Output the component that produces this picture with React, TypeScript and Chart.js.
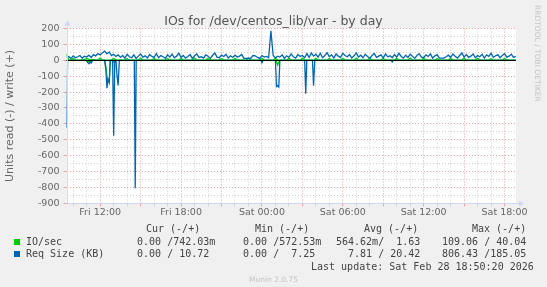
import React, { useEffect, useRef } from "react";
import { Chart, registerables } from "chart.js";

Chart.register(...registerables);

// ---- time axis (hours since Fri 00:00) ----
const START_H = 9.5; // Fri 09:30, first sample
const STEP_H = 1 / 6; // 10-minute samples
const X_MIN = 9.5;
const X_MAX = 42.85;
const X_LABEL_HOURS = [12, 18, 24, 30, 36, 42];
const X_LABELS = ["Fri 12:00", "Fri 18:00", "Sat 00:00", "Sat 06:00", "Sat 12:00", "Sat 18:00"];
const X_GRID_FIRST = 10;
const X_GRID_LAST = 42;

// ---- y axis ----
const Y_MIN = -900;
const Y_MAX = 200;
const Y_MINOR_STEP = 50;
const Y_MAJOR_STEP = 100;

// ---- series: Req Size (KB), write (+), one value per 10 minutes ----
const REQ_WRITE = [
  18, 24, 12, 28, 16, 22, 30, 14, 26, 20, 32, 18,
  36, 28, 42, 34, 48, 58, 40, 52, 30, 38, 24, 34,
  18, 30, 14, 38, 22, 16, 34, 12, 26, 40, 20, 28,
  14, 36, 24, 18, 42, 16, 30, 22, 12, 34, 20, 38,
  16, 26, 44, 18, 30, 14, 24, 36, 12, 28, 40, 18,
  22, 14, 34, 26, 12, 30, 46, 20, 16, 32, 24, 38,
  14, 28, 18, 32, 20, 26, 36, 12, 12, 14, 12, 30,
  28, 18, 12, 30, 20, 24, 16, 185, 30, 14, 26, 20,
  34, 12, 28, 18, 40, 22, 14, 36, 24, 30, 16, 42,
  18, 46, 26, 38, 20, 44, 16, 30, 48, 22, 34, 14,
  40, 26, 18, 44, 30, 22, 36, 14, 28, 46, 20, 32,
  16, 38, 24, 12, 30, 42, 18, 26, 34, 14, 40, 22,
  28, 16, 36, 20, 44, 24, 14, 32, 18, 38, 26, 12,
  30, 42, 20, 16, 34, 24, 40, 14, 28, 36, 14, 13,
  14, 22, 32, 18, 40, 26, 14, 30, 46, 20, 36, 18,
  26, 40, 16, 30, 22, 38, 14, 34, 24, 44, 18, 28,
  36, 16, 30, 42, 20, 26, 38, 18, 24,
];

// ---- series: IO/sec, write (+), one value per 10 minutes ----
const IO_WRITE = [
  40, 2, 1.2, 12, 1.4, 1.1,
  1.3, 1.6, 5, 11, 6, 4,
  5, 3, 1.4, 13, 1.3, 1.2,
  1.6, 1.1, 1.5, 12, 1.2, 1.4,
  1.2, 1.3, 1.1, 11, 1.6, 1.2,
  1.4, 1.2, 1.3, 13, 1.1, 1.5,
  1.3, 1.1, 1.2, 12, 1.4, 1.2,
  1.5, 1.3, 1.2, 11, 1.3, 1.1,
  1.2, 1.4, 1.6, 12, 1.2, 1.3,
  1.1, 1.3, 1.2, 13, 1.5, 1.2,
  1.4, 1.2, 1.1, 12, 1.3, 1.4,
  1.2, 1.5, 1.3, 11, 1.2, 1.1,
  1.3, 1.2, 1.4, 12, 1.1, 1.3,
  1.5, 1.1, 1.2, 13, 1.4, 1.2,
  1.2, 1.3, 1.5, 12, 1.2, 1.1,
  1.4, 1.2, 1.3, 11, 1.3, 1.5,
  1.1, 1.4, 1.2, 12, 1.2, 1.3,
  1.3, 1.2, 1.1, 13, 1.4, 1.2,
  1.2, 1.5, 1.3, 12, 1.1, 1.4,
  1.4, 1.1, 1.2, 11, 1.3, 1.2,
  1.3, 1.2, 1.4, 12, 1.2, 1.1,
  1.1, 1.3, 1.2, 13, 1.5, 1.3,
  1.2, 1.4, 1.1, 12, 1.3, 1.2,
  1.5, 1.2, 1.3, 11, 1.2, 1.4,
  1.2, 1.1, 1.4, 12, 1.3, 1.2,
  1.3, 1.5, 1.2, 13, 1.1, 1.3,
  1.4, 1.2, 1.1, 12, 1.4, 1.2,
  1.2, 1.3, 1.5, 11, 1.2, 1.1,
  1.1, 1.4, 1.2, 12, 1.3, 1.5,
  1.3, 1.2, 1.3, 13, 1.2, 1.4,
  1.2, 1.1, 1.4, 12, 1.5, 1.2,
  1.4, 1.3, 1.2, 11, 1.1, 1.3,
  1.2, 1.4, 1.3, 12, 1.2, 1.2,
  1.3, 1.1, 0.74,
];

// ---- series: Req Size (KB), read (-), sampled times (h) and values ----
const REQ_READ_T = [
  9.5, 9.583, 11.0, 11.08, 11.17, 11.25, 11.33, 11.42,
  12.33, 12.42, 12.5, 12.58, 12.67, 12.75, 12.92, 13.0, 13.08,
  13.17, 13.25, 13.33, 13.42, 14.53, 14.6, 14.67,
  23.92, 24.0, 24.08, 25.0, 25.08, 25.17, 25.25, 25.33,
  27.17, 27.25, 27.33, 27.75, 27.83, 27.92, 33.58, 33.67, 33.75, 42.83,
];
const REQ_READ_V = [
  -425, 0, 0, -15, -22, -10, -18, 0,
  0, -60, -175, -120, -140, 0, 0, -475, 0,
  0, -100, -158, 0, 0, -806, 0,
  0, -16, 0, 0, -165, -160, -168, 0,
  0, -210, 0, 0, -160, 0, 0, -10, 0, 0,
];

// ---- series: IO/sec, read (-), sampled times (h) and values ----
const IO_READ_T = [
  9.5, 10.9, 11.0, 11.17, 11.33, 11.5,
  12.33, 12.42, 12.5, 12.58, 12.67, 12.75, 12.92, 13.0, 13.08,
  25.0, 25.08, 25.17, 25.25, 25.33, 42.83,
];
const IO_READ_V = [
  0, 0, -6, -10, -5, 0,
  0, -40, -100, -136, -130, 0, 0, -12, 0,
  0, -10, -30, -12, 0, 0,
];

// ---- legend ----
const SERIES_NAMES = ["IO/sec", "Req Size (KB)"];
const SERIES_COLORS = ["#00CC00", "#0066B3"];
const COL_HEADERS = ["Cur (-/+)", "Min (-/+)", "Avg (-/+)", "Max (-/+)"];
const CUR_VALUES = ["  0.00 /742.03m", "  0.00 / 10.72 "];
const MIN_VALUES = ["  0.00 /572.53m", "  0.00 /  7.25 "];
const AVG_VALUES = ["564.62m/  1.63 ", "  7.81 / 20.42 "];
const MAX_VALUES = ["109.06 / 40.04 ", "806.43 /185.05 "];
const TITLE = "IOs for /dev/centos_lib/var - by day";
const Y_TITLE = "Units read (-) / write (+)";
const LAST_UPDATE = "Last update: Sat Feb 28 18:50:20 2026";
const WATERMARK = "RRDTOOL / TOBI OETIKER";
const VERSION = "Munin 2.0.75";

const MAJOR_GRID = "#e9a3a3";
const MINOR_GRID = "#d2d2d2";
const AXIS_COLOR = "#CFD6F8";
const FONT_COLOR = "#666666";

const SANS = "'DejaVu Sans', sans-serif";
const MONO = "'DejaVu Sans Mono', monospace";

export default function App() {
  const ref = useRef<HTMLCanvasElement>(null);

  useEffect(() => {
    const canvas = ref.current;
    if (!canvas) return;
    const series = (vals: number[]) => vals.map((v, i) => ({ x: START_H + i * STEP_H, y: v }));
    const sparse = (t: number[], v: number[]) => t.map((x, i) => ({ x, y: v[i] }));

    const yTicks: number[] = [];
    for (let v = Y_MIN; v <= Y_MAX; v += Y_MINOR_STEP) yTicks.push(v);
    const xTicks: number[] = [];
    for (let h = X_GRID_FIRST; h <= X_GRID_LAST; h += 1) xTicks.push(h);

    const decor = {
      id: "decor",
      beforeDraw(chart: any) {
        const { ctx, chartArea: a } = chart;
        ctx.save();
        ctx.fillStyle = "#ffffff";
        ctx.fillRect(a.left, a.top, a.right - a.left, a.bottom - a.top);
        ctx.restore();
      },
      afterDatasetsDraw(chart: any) {
        const { ctx, chartArea: a, scales } = chart;
        ctx.save();
        const y0 = Math.round(scales.y.getPixelForValue(0)) + 0.5;
        ctx.strokeStyle = "#000000";
        ctx.lineWidth = 1;
        ctx.beginPath();
        ctx.moveTo(a.left, y0);
        ctx.lineTo(a.right, y0);
        ctx.stroke();
        const xl = Math.round(a.left) + 0.5;
        const yb = Math.round(a.bottom) + 0.5;
        ctx.strokeStyle = AXIS_COLOR;
        ctx.fillStyle = AXIS_COLOR;
        ctx.beginPath();
        ctx.moveTo(xl, a.top - 3);
        ctx.lineTo(xl, yb);
        ctx.lineTo(a.right + 3, yb);
        ctx.stroke();
        ctx.beginPath();
        ctx.moveTo(xl - 3, a.top - 3);
        ctx.lineTo(xl + 3, a.top - 3);
        ctx.lineTo(xl, a.top - 8);
        ctx.closePath();
        ctx.fill();
        ctx.beginPath();
        ctx.moveTo(a.right + 3, yb - 3);
        ctx.lineTo(a.right + 3, yb + 3);
        ctx.lineTo(a.right + 8, yb);
        ctx.closePath();
        ctx.fill();
        ctx.restore();
      },
    };

    const line = (label: string, data: any[], color: string) => ({
      label,
      data,
      borderColor: color,
      backgroundColor: color,
      borderWidth: 1.3,
      pointRadius: 0,
      tension: 0,
      fill: false,
    });

    const chart = new Chart(canvas, {
      type: "line",
      data: {
        datasets: [
          line(SERIES_NAMES[1], series(REQ_WRITE), SERIES_COLORS[1]),
          line(SERIES_NAMES[1], sparse(REQ_READ_T, REQ_READ_V), SERIES_COLORS[1]),
          line(SERIES_NAMES[0], series(IO_WRITE), SERIES_COLORS[0]),
          line(SERIES_NAMES[0], sparse(IO_READ_T, IO_READ_V), SERIES_COLORS[0]),
        ],
      },
      options: {
        animation: false,
        responsive: true,
        maintainAspectRatio: false,
        layout: { padding: { left: 0, right: 31, top: 28.5, bottom: 63.7 } },
        plugins: { legend: { display: false }, tooltip: { enabled: false }, title: { display: false } },
        scales: {
          x: {
            type: "linear",
            min: X_MIN,
            max: X_MAX,
            afterBuildTicks: (s: any) => {
              s.ticks = xTicks.map((v) => ({ value: v }));
            },
            afterFit: (s: any) => {
              s.height = 20;
            },
            ticks: {
              autoSkip: false,
              maxRotation: 0,
              minRotation: 0,
              padding: 1,
              color: FONT_COLOR,
              font: { family: SANS, size: 9.5 },
              callback: (v: any) => {
                const k = X_LABEL_HOURS.indexOf(Number(v));
                return k >= 0 ? X_LABELS[k] : "";
              },
            },
            grid: {
              color: (c: any) => (c.tick && c.tick.value % 3 === 0 ? MAJOR_GRID : MINOR_GRID),
              tickColor: (c: any) => (c.tick && c.tick.value % 3 === 0 ? MAJOR_GRID : MINOR_GRID),
              lineWidth: 1,
              drawTicks: true,
              tickLength: 3,
            },
            border: { display: false, dash: [1, 2] },
          },
          y: {
            type: "linear",
            min: Y_MIN,
            max: Y_MAX,
            afterBuildTicks: (s: any) => {
              s.ticks = yTicks.map((v) => ({ value: v }));
            },
            afterFit: (s: any) => {
              s.width = 66.5;
            },
            title: {
              display: true,
              text: Y_TITLE,
              color: FONT_COLOR,
              font: { family: SANS, size: 11 },
              padding: { top: 3.5, bottom: 0 },
            },
            ticks: {
              autoSkip: false,
              padding: 4,
              color: FONT_COLOR,
              font: { family: SANS, size: 9.5 },
              callback: (v: any) => (Number(v) % Y_MAJOR_STEP === 0 ? String(v) : ""),
            },
            grid: {
              color: (c: any) => (c.tick && c.tick.value % Y_MAJOR_STEP === 0 ? MAJOR_GRID : MINOR_GRID),
              tickColor: (c: any) => (c.tick && c.tick.value % Y_MAJOR_STEP === 0 ? MAJOR_GRID : "rgba(0,0,0,0)"),
              lineWidth: 1,
              drawTicks: true,
              tickLength: 3,
            },
            border: { display: false, dash: [1, 2] },
          },
        },
      },
      plugins: [decor],
    } as any);

    return () => chart.destroy();
  }, []);

  const legendTop = (yc: number) => yc - 5.8;
  const mono = (text: string, left: number, yc: number, key: string) => (
    <div
      key={key}
      style={{
        position: "absolute",
        left,
        top: legendTop(yc),
        font: `10px ${MONO}`,
        lineHeight: "12px",
        whiteSpace: "pre",
        color: "#444444",
      }}
    >
      {text}
    </div>
  );

  const colLeft = [125, 231, 336, 442];
  const headLeft = [146, 255, 364, 472];
  const rowY = [241.9, 254.1];
  const cols = [CUR_VALUES, MIN_VALUES, AVG_VALUES, MAX_VALUES];

  return (
    <div
      style={{
        position: "fixed",
        left: 0,
        top: 0,
        width: 547,
        height: 287,
        background: "#F0F0F0",
        overflow: "hidden",
      }}
    >
      <canvas ref={ref} style={{ position: "absolute", left: 0, top: 0 }} />
      <div
        style={{
          position: "absolute",
          left: 0,
          top: 13.7,
          width: 547,
          textAlign: "center",
          font: `12.5px ${SANS}`,
          lineHeight: "14px",
          color: "#555555",
          whiteSpace: "pre",
        }}
      >
        {TITLE}
      </div>
      <div
        style={{
          position: "absolute",
          left: 533,
          top: 5,
          writingMode: "vertical-rl",
          font: `7.5px ${SANS}`,
          lineHeight: "9px",
          color: "#c4c4c4",
          whiteSpace: "pre",
        }}
      >
        {WATERMARK}
      </div>
      {COL_HEADERS.map((h, i) => mono(h, headLeft[i], 228.6, "h" + i))}
      {SERIES_NAMES.map((name, r) => (
        <React.Fragment key={"r" + r}>
          <div
            style={{
              position: "absolute",
              left: 14,
              top: rowY[r] - 2.9,
              width: 5.5,
              height: 5.5,
              background: SERIES_COLORS[r],
            }}
          />
          {mono(name, 26, rowY[r], "n" + r)}
          {cols.map((c, ci) => mono(c[r], colLeft[ci], rowY[r], "c" + r + ci))}
        </React.Fragment>
      ))}
      {mono(LAST_UPDATE, 311, 266.3, "lu")}
      <div
        style={{
          position: "absolute",
          left: 0,
          top: 275.2,
          width: 547,
          textAlign: "center",
          font: `7.5px ${SANS}`,
          lineHeight: "9px",
          color: "#c4c4c4",
        }}
      >
        {VERSION}
      </div>
    </div>
  );
}
